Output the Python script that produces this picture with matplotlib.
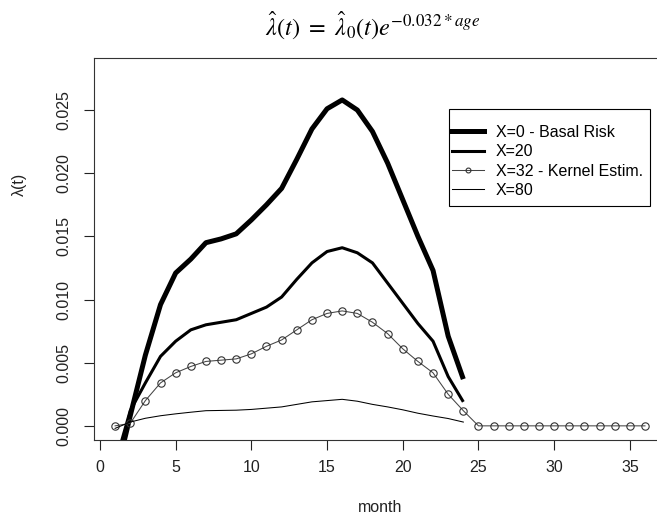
import matplotlib
matplotlib.use("Agg")
import matplotlib.pyplot as plt
from matplotlib.lines import Line2D
from matplotlib.patches import Rectangle

plt.rcParams['font.family'] = ['Liberation Sans', 'DejaVu Sans']
plt.rcParams['mathtext.fontset'] = 'stix'

# hazard estimates, one value per month
months = list(range(1, 25))
months_kernel = list(range(1, 37))

basal = [-0.0042, 0.0008, 0.0056, 0.0096, 0.0121, 0.0132, 0.0145, 0.0148,
         0.0152, 0.0163, 0.0175, 0.0188, 0.0211, 0.0235, 0.0251, 0.0258,
         0.0250, 0.0233, 0.0208, 0.0179, 0.0150, 0.0123, 0.0071, 0.0037]
x20 = [-0.0030, 0.0012, 0.0034, 0.0055, 0.0067, 0.0076, 0.0080, 0.0082,
       0.0084, 0.0089, 0.0094, 0.0102, 0.0116, 0.0129, 0.0138, 0.0141,
       0.0137, 0.0129, 0.0113, 0.0097, 0.0081, 0.0067, 0.0039, 0.0019]
kernel32 = [0.0000, 0.0002, 0.0020, 0.0034, 0.0042, 0.0047, 0.0051, 0.0052,
            0.0053, 0.0057, 0.0063, 0.0068, 0.0076, 0.0084, 0.0089, 0.0091,
            0.0089, 0.0082, 0.0073, 0.0061, 0.0051, 0.0042, 0.0025, 0.0012,
            0, 0, 0, 0, 0, 0, 0, 0, 0, 0, 0, 0]
x80 = [-0.0002, 0.0003, 0.0006, 0.0008, 0.00095, 0.00108, 0.0012, 0.00122,
       0.00124, 0.0013, 0.0014, 0.0015, 0.0017, 0.0019, 0.0020, 0.0021,
       0.00195, 0.0017, 0.0015, 0.00127, 0.0010, 0.00078, 0.00058, 0.0003]

labels = ["X=0 - Basal Risk", "X=20", "X=32 - Kernel Estim.", "X=80"]

W, H = 657, 517
fig = plt.figure(figsize=(W / 100, H / 100), dpi=100)
ax = fig.add_axes([93.9 / W, 77 / H, 572.3 / W, 382 / H])

ax.plot(months, basal, color='black', lw=3.6, solid_capstyle='butt')
ax.plot(months, x20, color='black', lw=2.2, solid_capstyle='butt')
ax.plot(months_kernel, kernel32, color='#444444', lw=0.75, marker='o', ms=5.3,
        mfc='none', mec='#333333', mew=0.8)
ax.plot(months, x80, color='black', lw=0.75)

ax.set_xlim(-0.4, 37.4)
ax.set_ylim(-0.00112, 0.02912)
ax.set_xticks(range(0, 36, 5))
ax.set_yticks([0, 0.005, 0.010, 0.015, 0.020, 0.025])
ax.set_yticklabels(["0.000", "0.005", "0.010", "0.015", "0.020", "0.025"])
ax.tick_params(direction='out', length=7.2, width=0.8, labelsize=11.5,
               colors='#222222')
ax.tick_params(axis='x', pad=7)
ax.tick_params(axis='y', pad=9, labelrotation=90)
for lbl in ax.get_yticklabels():
    lbl.set_va('center')
for sp in ax.spines.values():
    sp.set_color('#333333')
    sp.set_linewidth(0.8)

fig.text(373 / W, 1 - 25 / H,
         r'$\hat{\lambda}(t)\ =\ \hat{\lambda}_0(t)e^{-0.032*age}$',
         ha='center', va='center', fontsize=17.5)
fig.text(380 / W, 1 - 508 / H, "month", ha='center', va='center',
         fontsize=11.5, color='#222222')
fig.text(19 / W, 1 - 184 / H, "λ(t)", ha='center', va='center',
         rotation=90, fontsize=11.5, color='#222222')

handles = [
    Line2D([], [], color='black', lw=3.6),
    Line2D([], [], color='black', lw=2.2),
    Line2D([], [], color='#444444', lw=0.75, marker='o', ms=3.5,
           mfc='none', mec='#333333', mew=0.8),
    Line2D([], [], color='black', lw=0.75),
]
fig.legend(handles, labels, loc='upper left',
           bbox_to_anchor=(451.7 / W, 1 - 125 / H), frameon=False,
           borderpad=0, borderaxespad=0, handlelength=2.0,
           handletextpad=0.78, labelspacing=0.27, fontsize=11.5)
fig.add_artist(Rectangle((449.3 / W, 1 - 206 / H), (650 - 449.3) / W,
                         (206 - 109.3) / H, transform=fig.transFigure,
                         fill=False, edgecolor='black', lw=0.8))

fig.savefig("out.png", dpi=100)
